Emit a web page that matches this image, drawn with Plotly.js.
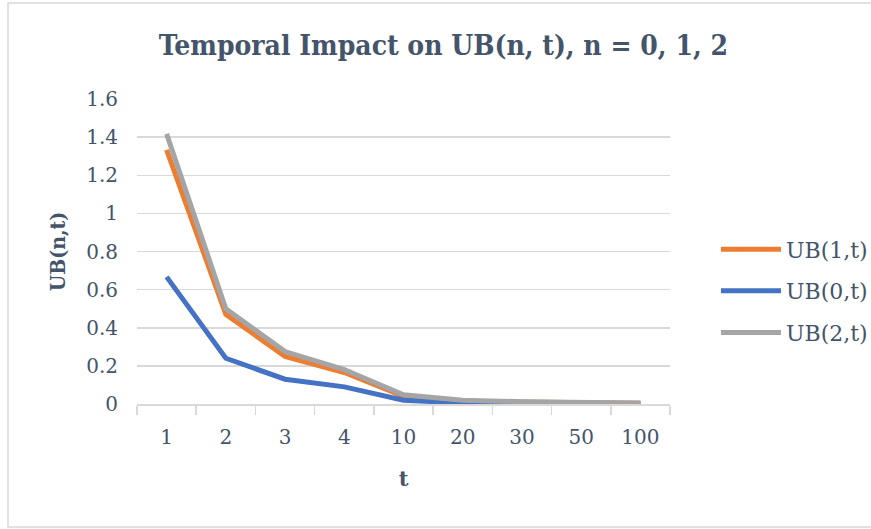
<!DOCTYPE html>
<html>
<head>
<meta charset="utf-8">
<script src="https://cdn.plot.ly/plotly-3.0.1.min.js"></script>
<style>
html,body{margin:0;padding:0;background:#fff;}
#chart{width:871px;height:529px;}
</style>
</head>
<body>
<div id="chart"></div>
<script>
var categories = ["1","2","3","4","10","20","30","50","100"];
var ub1 = [1.333, 0.47, 0.25, 0.165, 0.04, 0.015, 0.01, 0.006, 0.004];
var ub0 = [0.667, 0.24, 0.13, 0.09, 0.02, 0.005, 0.003, 0.002, 0.001];
var ub2 = [1.417, 0.50, 0.275, 0.18, 0.048, 0.02, 0.012, 0.008, 0.005];
var seriesNames = ["UB(1,t)", "UB(0,t)", "UB(2,t)"];
var yTicks = [0, 0.2, 0.4, 0.6, 0.8, 1, 1.2, 1.4, 1.6];
var yTickText = ["0", "0.2", "0.4", "0.6", "0.8", "1", "1.2", "1.4", "1.6"];

var textColor = "#44546a";
var fontFam = "DejaVu Serif, serif";
var titleFam = "DejaVu Serif Condensed, DejaVu Serif, serif";

var traces = [
  {x: categories, y: ub1, name: seriesNames[0], legendgroup: "a", type: "scatter", mode: "lines",
   line: {color: "#ed7d31", width: 5}},
  {x: categories, y: ub0, name: seriesNames[1], legendgroup: "b", type: "scatter", mode: "lines",
   line: {color: "#4472c4", width: 5}},
  {x: categories, y: ub2, name: seriesNames[2], legendgroup: "c", type: "scatter", mode: "lines",
   line: {color: "#a5a5a5", width: 5}}
];

var layout = {
  width: 871, height: 529,
  margin: {l: 137, r: 201, t: 99, b: 125},
  paper_bgcolor: "#ffffff",
  plot_bgcolor: "#ffffff",
  font: {family: fontFam, color: textColor, size: 20},
  title: {
    text: "<b>Temporal Impact on UB(n, t), n = 0, 1, 2</b>",
    font: {family: titleFam, size: 28, color: textColor},
    x: 0.509, xref: "container", xanchor: "center",
    y: 0.915, yref: "container", yanchor: "middle"
  },
  xaxis: {
    type: "category",
    range: [-0.5, 8.5],
    showline: true, linecolor: "#d9d9d9", linewidth: 1.5,
    ticks: "outside", tickson: "boundaries", ticklen: 9, tickcolor: "#d9d9d9", tickwidth: 1.5,
    showgrid: false, zeroline: false,
    ticklabelstandoff: 14,
    tickfont: {family: fontFam, size: 20, color: textColor},
    title: {text: "<b>t</b>", font: {family: fontFam, size: 21, color: textColor}, standoff: 24},
    fixedrange: true
  },
  yaxis: {
    range: [0, 1.6],
    tickvals: yTicks, ticktext: yTickText,
    showgrid: true, gridcolor: "#d9d9d9", gridwidth: 1.5,
    showline: false, zeroline: false, ticks: "",
    ticklabelstandoff: 18,
    tickfont: {family: fontFam, size: 20, color: textColor},
    title: {text: "<b>UB(n,t)</b>", font: {family: titleFam, size: 21, color: textColor}, standoff: 14},
    fixedrange: true
  },
  legend: {
    xref: "container", yref: "container",
    x: 0.822, xanchor: "left", y: 0.45, yanchor: "middle",
    font: {family: fontFam, size: 22, color: textColor},
    tracegroupgap: 10, itemwidth: 60,
    bgcolor: "rgba(0,0,0,0)"
  },
  showlegend: true,
  shapes: [{
    type: "rect", xref: "paper", yref: "paper",
    x0: (8 - 137) / 533, x1: (880 - 137) / 533,
    y0: (404 - 527) / 305, y1: (404 - 3) / 305,
    line: {color: "#d9d9d9", width: 1.5}, fillcolor: "rgba(0,0,0,0)", layer: "below"
  }]
};

Plotly.newPlot("chart", traces, layout, {displayModeBar: false, staticPlot: true});
</script>
</body>
</html>
